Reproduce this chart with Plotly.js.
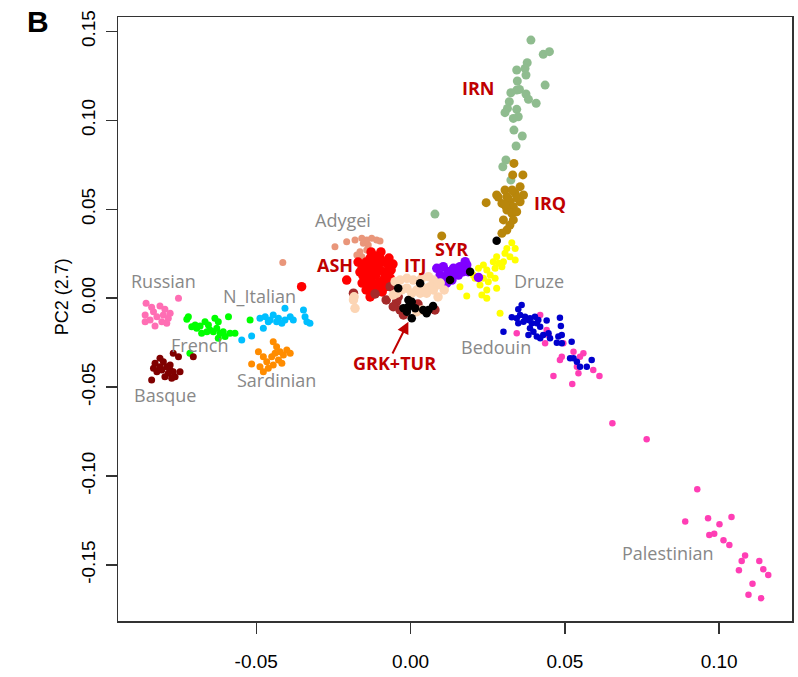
<!DOCTYPE html>
<html>
<head>
<meta charset="utf-8">
<script src="https://cdn.plot.ly/plotly-3.0.1.min.js"></script>
<style>html,body{margin:0;padding:0;background:#fff;}#chart{width:798px;height:677px;}</style>
</head>
<body>
<div id="chart"></div>
<script>
// ---- Data (PC1, PC2) per population ----
const russianX = [-0.0857,-0.0839,-0.0812,-0.0796,-0.0860,-0.0833,-0.0822,-0.0801,-0.0785,-0.0806,-0.0828,-0.0860,-0.0790,-0.0779,-0.0844,-0.0752];
const russianY = [-0.0029,-0.0051,-0.0044,-0.0062,-0.0094,-0.0076,-0.0104,-0.0094,-0.0113,-0.0132,-0.0156,-0.0132,-0.0141,-0.0085,-0.0123,-0.0001];

const frenchX = [-0.0720,-0.0725,-0.0709,-0.0693,-0.0682,-0.0666,-0.0655,-0.0650,-0.0634,-0.0623,-0.0628,-0.0617,-0.0607,-0.0590,-0.0585,-0.0569,-0.0677,-0.0660,-0.0639,-0.0698,-0.0623,-0.0601,-0.0520,-0.0715];
const frenchY = [-0.0104,-0.0119,-0.0160,-0.0169,-0.0156,-0.0132,-0.0151,-0.0179,-0.0113,-0.0132,-0.0169,-0.0197,-0.0188,-0.0104,-0.0197,-0.0197,-0.0197,-0.0188,-0.0188,-0.0151,-0.0225,-0.0216,-0.0123,-0.0310];

const basqueX = [-0.0812,-0.0828,-0.0801,-0.0790,-0.0779,-0.0806,-0.0769,-0.0785,-0.0822,-0.0796,-0.0774,-0.0747,-0.0752,-0.0769,-0.0839,-0.0833,-0.0812,-0.0779,-0.0763,-0.0704];
const basqueY = [-0.0338,-0.0366,-0.0357,-0.0385,-0.0375,-0.0404,-0.0413,-0.0422,-0.0413,-0.0441,-0.0450,-0.0413,-0.0329,-0.0310,-0.0460,-0.0394,-0.0385,-0.0404,-0.0441,-0.0329];

const nItalianX = [-0.0547,-0.0515,-0.0477,-0.0488,-0.0471,-0.0455,-0.0445,-0.0434,-0.0417,-0.0407,-0.0390,-0.0407,-0.0380,-0.0347,-0.0342,-0.0336,-0.0326,-0.0461,-0.0428];
const nItalianY = [-0.0235,-0.0212,-0.0169,-0.0113,-0.0104,-0.0123,-0.0094,-0.0132,-0.0141,-0.0123,-0.0104,-0.0057,-0.0123,-0.0066,-0.0104,-0.0132,-0.0141,-0.0132,-0.0113];

const sardinianX = [-0.0515,-0.0493,-0.0477,-0.0466,-0.0450,-0.0445,-0.0434,-0.0423,-0.0412,-0.0401,-0.0390,-0.0428,-0.0445,-0.0461,-0.0417,-0.0477,-0.0488,-0.0439];
const sardinianY = [-0.0370,-0.0301,-0.0329,-0.0357,-0.0329,-0.0245,-0.0273,-0.0301,-0.0319,-0.0291,-0.0310,-0.0347,-0.0375,-0.0394,-0.0366,-0.0413,-0.0385,-0.0310];

const adygeiX = [-0.0245,-0.0207,-0.0180,-0.0158,-0.0142,-0.0126,-0.0110,-0.0099,-0.0153,-0.0137,-0.0164,-0.0158,-0.0174,-0.0142,-0.0147,-0.0414];
const adygeiY = [0.0289,0.0318,0.0327,0.0337,0.0327,0.0337,0.0327,0.0322,0.0309,0.0299,0.0261,0.0233,0.0243,0.0271,0.0318,0.0200];

const irnX = [0.0390,0.0430,0.0450,0.0378,0.0371,0.0344,0.0374,0.0346,0.0436,0.0344,0.0325,0.0353,0.0374,0.0382,0.0407,0.0320,0.0314,0.0306,0.0344,0.0349,0.0333,0.0335,0.0362,0.0342,0.0309,0.0299,0.0325,0.0079];
const irnY = [0.1451,0.1371,0.1386,0.1324,0.1292,0.1283,0.1255,0.1221,0.1198,0.1170,0.1155,0.1174,0.1148,0.1118,0.1096,0.1105,0.1067,0.1043,0.1062,0.1020,0.1011,0.0945,0.0912,0.0856,0.0777,0.0739,0.0664,0.0473];

const irqX = [0.0335,0.0331,0.0364,0.0355,0.0306,0.0279,0.0312,0.0339,0.0366,0.0322,0.0296,0.0245,0.0333,0.0355,0.0312,0.0328,0.0344,0.0301,0.0333,0.0322,0.0312,0.0296,0.0101,0.0316,0.0329,0.0345,0.0306,0.0284];
const irqY = [0.0758,0.0693,0.0693,0.0627,0.0608,0.0580,0.0571,0.0590,0.0580,0.0542,0.0533,0.0537,0.0514,0.0542,0.0496,0.0477,0.0486,0.0440,0.0440,0.0411,0.0383,0.0365,0.0350,0.0563,0.0608,0.0563,0.0524,0.0569];

const druzeX = [0.0328,0.0339,0.0312,0.0306,0.0322,0.0339,0.0301,0.0279,0.0285,0.0296,0.0274,0.0268,0.0236,0.0220,0.0247,0.0258,0.0236,0.0274,0.0252,0.0225,0.0209,0.0279,0.0247,0.0231,0.0247,0.0182,0.0160,0.0290,0.0203];
const druzeY = [0.0312,0.0280,0.0280,0.0252,0.0233,0.0215,0.0205,0.0233,0.0196,0.0177,0.0168,0.0205,0.0187,0.0168,0.0159,0.0130,0.0112,0.0112,0.0093,0.0074,0.0112,0.0056,0.0046,0.0018,-0.0001,0.0012,0.0065,-0.0085,0.0130];

const bedouinX = [0.0360,0.0349,0.0328,0.0344,0.0355,0.0371,0.0382,0.0366,0.0349,0.0387,0.0403,0.0414,0.0393,0.0409,0.0420,0.0441,0.0484,0.0487,0.0387,0.0398,0.0382,0.0409,0.0420,0.0430,0.0447,0.0452,0.0479,0.0490,0.0474,0.0490,0.0522,0.0528,0.0517,0.0539,0.0571,0.0587,0.0549,0.0301];
const bedouinY = [-0.0038,-0.0062,-0.0107,-0.0113,-0.0094,-0.0104,-0.0123,-0.0132,-0.0141,-0.0113,-0.0104,-0.0123,-0.0141,-0.0141,-0.0160,-0.0126,-0.0110,-0.0156,-0.0169,-0.0188,-0.0207,-0.0216,-0.0225,-0.0207,-0.0197,-0.0225,-0.0216,-0.0207,-0.0250,-0.0254,-0.0245,-0.0338,-0.0338,-0.0357,-0.0385,-0.0347,-0.0385,-0.0188];

const palestinianX = [0.0420,0.0344,0.0441,0.0447,0.0436,0.0495,0.0490,0.0484,0.0528,0.0560,0.0539,0.0544,0.0592,0.0612,0.0463,0.0524,0.0549,0.0654,0.0765,0.0929,0.0890,0.0964,0.1001,0.1040,0.0968,0.0984,0.1014,0.1033,0.1084,0.1073,0.1064,0.1130,0.1143,0.1159,0.1108,0.1095,0.1136];
const palestinianY = [-0.0094,-0.0197,-0.0179,-0.0207,-0.0254,-0.0254,-0.0329,-0.0347,-0.0301,-0.0310,-0.0385,-0.0422,-0.0404,-0.0437,-0.0437,-0.0482,-0.0329,-0.0703,-0.0793,-0.1074,-0.1256,-0.1237,-0.1271,-0.1230,-0.1331,-0.1325,-0.1361,-0.1387,-0.1447,-0.1477,-0.1530,-0.1477,-0.1524,-0.1556,-0.1605,-0.1668,-0.1687];

const syrX = [0.0085,0.0106,0.0122,0.0139,0.0160,0.0177,0.0182,0.0155,0.0134,0.0117,0.0096,0.0187,0.0171,0.0144,0.0101,0.0220,0.0117];
const syrY = [0.0168,0.0177,0.0149,0.0168,0.0177,0.0205,0.0187,0.0130,0.0102,0.0121,0.0130,0.0149,0.0149,0.0140,0.0102,0.0117,0.0084];

const ashX = [-0.0157,-0.0144,-0.0131,-0.0115,-0.0099,-0.0086,-0.0073,-0.0063,-0.0073,-0.0089,-0.0105,-0.0125,-0.0141,-0.0154,-0.0164,-0.0138,-0.0118,-0.0099,-0.0112,-0.0131,-0.0086,-0.0105,-0.0125,-0.0147,-0.0079,-0.0099,-0.0131,-0.0157,-0.0066,-0.0057,-0.0115,-0.0144,-0.0070,-0.0128,-0.0096,-0.0083,-0.0207,-0.0353,-0.0122,-0.0092,-0.0131,-0.0170];
const ashY = [0.0170,0.0203,0.0226,0.0237,0.0226,0.0203,0.0187,0.0159,0.0125,0.0102,0.0085,0.0091,0.0102,0.0125,0.0147,0.0159,0.0170,0.0159,0.0130,0.0130,0.0147,0.0203,0.0203,0.0136,0.0091,0.0057,0.0069,0.0085,0.0114,0.0192,0.0046,0.0046,0.0226,0.0260,0.0260,0.0063,0.0102,0.0065,0.0029,0.0035,0.0007,0.0203];

const grkX = [-0.0066,-0.0185,-0.0115,-0.0045,-0.0034,-0.0023,0.0079,-0.0056,-0.0040,-0.0079,0.0024];
const grkY = [0.0065,0.0028,0.0024,-0.0020,-0.0066,-0.0094,-0.0066,-0.0048,0.0008,-0.0010,-0.0033];

const itjX = [-0.0050,-0.0034,-0.0012,0.0009,0.0036,0.0058,0.0074,0.0085,0.0063,0.0041,0.0020,-0.0012,-0.0029,-0.0045,-0.0056,0.0004,0.0031,0.0052,0.0074,0.0020,0.0036,-0.0185,-0.0180,-0.0183,0.0096,0.0109,0.0089];
const itjY = [0.0093,0.0102,0.0112,0.0102,0.0112,0.0121,0.0102,0.0074,0.0065,0.0056,0.0046,0.0056,0.0046,0.0028,0.0018,0.0028,0.0028,0.0028,0.0046,-0.0076,-0.0066,-0.0010,-0.0057,0.0008,0.0085,0.0046,0.0007];

const turX = [-0.0040,-0.0007,0.0004,-0.0012,0.0004,0.0041,0.0058,0.0031,0.0128,-0.0007,0.0015,-0.0023,0.0052,0.0193,0.0279,0.0073];
const turY = [0.0056,-0.0048,-0.0020,-0.0076,-0.0113,-0.0066,-0.0066,0.0084,0.0102,-0.0010,-0.0057,-0.0057,-0.0085,0.0149,0.0323,-0.0044];

// ---- Labels ----
const greyLabels = ['Russian','N_Italian','French','Basque','Sardinian','Adygei','Druze','Bedouin','Palestinian'];
const greyLabelX = [-0.0800,-0.0489,-0.0685,-0.0796,-0.0436,-0.0219,0.0416,0.0277,0.0833];
const greyLabelY = [0.0097,0.0012,-0.0263,-0.0544,-0.0460,0.0440,0.0097,-0.0274,-0.1432];
const redLabels = ['IRN','IRQ','SYR','ASH','ITJ','GRK+TUR'];
const redLabelX = [0.0220,0.0452,0.0134,-0.0245,0.0015,-0.0053];
const redLabelY = [0.1182,0.0535,0.0277,0.0187,0.0187,-0.0364];
const xTickVals = [-0.05,0,0.05,0.10];
const xTickText = ['-0.05','0.00','0.05','0.10'];
const yTickVals = [-0.15,-0.10,-0.05,0,0.05,0.10,0.15];
const yTickText = ['-0.15','-0.10','-0.05','0.00','0.05','0.10','0.15'];

function tr(x, y, color, size) {
  return {x: x, y: y, type: 'scatter', mode: 'markers', hoverinfo: 'skip',
    marker: {color: color, size: size, line: {width: 0}}};
}

const data = [
  tr(russianX, russianY, '#FF6EB4', 7),
  tr(frenchX, frenchY, '#00FF00', 7),
  tr(basqueX, basqueY, '#800000', 7),
  tr(nItalianX, nItalianY, '#00BFFF', 7),
  tr(sardinianX, sardinianY, '#FF8C00', 7),
  tr(adygeiX, adygeiY, '#E9967A', 7),
  tr(irnX, irnY, '#8FBC8F', 9),
  tr(irqX, irqY, '#B8860B', 9),
  tr(druzeX, druzeY, '#FFFF00', 7),
  tr(palestinianX, palestinianY, '#FF3EB5', 6.5),
  tr(bedouinX, bedouinY, '#0000CD', 6.5),
  tr(syrX, syrY, '#8000FF', 9.5),
  tr(ashX, ashY, '#FF0000', 9.5),
  tr(grkX, grkY, '#A52A2A', 9.5),
  tr(itjX, itjY, '#FCD5B4', 9.5),
  tr(turX, turY, '#000000', 8.5)
];

const annotations = [];
greyLabels.forEach((t, i) => annotations.push({
  x: greyLabelX[i], y: greyLabelY[i], xref: 'x', yref: 'y', text: t, showarrow: false,
  xanchor: 'center', yanchor: 'middle',
  font: {family: 'Open Sans, sans-serif', size: 18, color: '#888888'}
}));
redLabels.forEach((t, i) => annotations.push({
  x: redLabelX[i], y: redLabelY[i], xref: 'x', yref: 'y', text: '<b>' + t + '</b>', showarrow: false,
  xanchor: 'center', yanchor: 'middle',
  font: {family: 'Open Sans, sans-serif', size: 18, color: '#C00000'}
}));
annotations.push({
  x: -0.0007, y: -0.0132, xref: 'x', yref: 'y', ax: -0.0061, ay: -0.0319, axref: 'x', ayref: 'y',
  text: '', showarrow: true, arrowhead: 2, arrowsize: 1.2, arrowwidth: 2, arrowcolor: '#C00000', standoff: 0
});
annotations.push({
  x: -0.119, y: 0.992, xref: 'paper', yref: 'paper', text: '<b>B</b>', showarrow: false,
  xanchor: 'center', yanchor: 'middle',
  font: {family: 'Liberation Sans, Arial, sans-serif', size: 30, color: '#000'}
});
annotations.push({
  x: -0.083, y: 0.536, xref: 'paper', yref: 'paper', text: 'PC2 (2.7)', showarrow: false,
  textangle: -90, xanchor: 'center', yanchor: 'middle',
  font: {family: 'Liberation Sans, Arial, sans-serif', size: 18, color: '#000'}
});

const axisCommon = {
  showgrid: false, zeroline: false, showline: true, mirror: true,
  linecolor: '#333333', linewidth: 1.5,
  ticks: 'outside', ticklen: 11, tickwidth: 1.5, tickcolor: '#333333',
  tickfont: {family: 'Liberation Sans, Arial, sans-serif', size: 19, color: '#000'}
};

const layout = Object.assign({
  width: 798, height: 677, autosize: false,
  margin: {l: 118, r: 6, t: 17, b: 56, pad: 0},
  paper_bgcolor: '#ffffff', plot_bgcolor: '#ffffff',
  showlegend: false,
  annotations: annotations,
  xaxis: Object.assign({}, axisCommon, {range: [-0.0948, 0.1236], tickmode: 'array', tickvals: xTickVals, ticktext: xTickText, ticklabelstandoff: 12}),
  yaxis: Object.assign({}, axisCommon, {range: [-0.1815, 0.1581], tickmode: 'array', tickvals: yTickVals, ticktext: yTickText, tickangle: -90, ticklabelstandoff: 3})
});

Plotly.newPlot('chart', data, layout, {staticPlot: true, displayModeBar: false});
</script>
</body>
</html>
